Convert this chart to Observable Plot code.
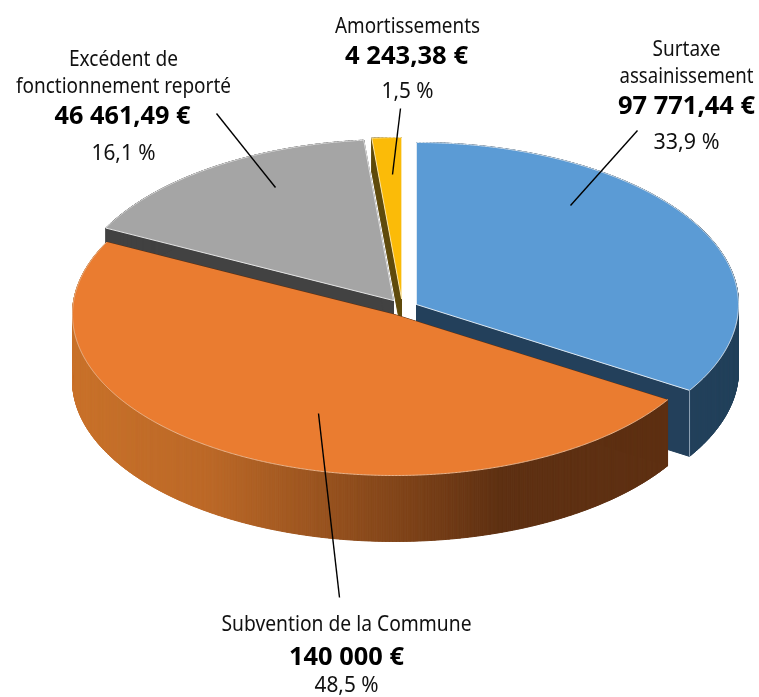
<!DOCTYPE html>
<html lang="fr">
<head>
<meta charset="utf-8">
<script src="https://cdn.jsdelivr.net/npm/d3@7"></script>
<script src="https://cdn.jsdelivr.net/npm/@observablehq/plot@0.6"></script>
<style>
html,body{margin:0;padding:0;background:#fff}
svg{display:block;filter:blur(.45px)}
</style>
</head>
<body>
<div id="chart"></div>
<script>
// Values
const categories = ["Surtaxe\nassainissement", "Subvention de la Commune", "Excédent de\nfonctionnement reporté", "Amortissements"];
const amounts = [97771.44, 140000, 46461.49, 4243.38];
const amountLabels = ["97 771,44 €", "140 000 €", "46 461,49 €", "4 243,38 €"];
const percentLabels = ["33,9 %", "48,5 %", "16,1 %", "1,5 %"];

// Styling and layout, one entry per slice
const topColors = ["#5b9bd5", "#ea7c30", "#a5a5a5", "#fbbb08"];
const wallColors = ["#23405b", "#5e3012", "#424242", "#5f4a0c"];
const edgeColors = ["#dce8f3", "none", "#e4e4e4", "#fbe6a8"];
const apexX = [416, 394, 393, 401];
const apexY = [304, 314, 300, 298];
const wallDepth = [66, 66, 66, 34];
const nameX = [686, 346, 123, 407], nameY = [60.5, 622, 70, 24];
const amountX = [686, 346, 122, 406], amountY = [105, 656, 115, 55];
const percentX = [686, 346, 123, 407], percentY = [141, 684, 152, 90];
const leaderX1 = [637, 339, 216, 400], leaderY1 = [130, 597, 113, 108];
const leaderX2 = [570, 318, 275, 392], leaderY2 = [205, 413, 187, 174];

// Printed width of each line of text, in pixels
const lineWidths = new Map([
  ["Surtaxe", 68], ["assainissement", 134], ["Subvention de la Commune", 250],
  ["Excédent de", 109], ["fonctionnement reporté", 215], ["Amortissements", 145],
  ["97 771,44 €", 137], ["140 000 €", 115], ["46 461,49 €", 136], ["4 243,38 €", 123],
  ["33,9 %", 66], ["48,5 %", 64], ["16,1 %", 64], ["1,5 %", 52]
]);

const radiusX = 322, radiusY = 161;
const sideRamp = d3.scaleLinear()
  .domain([72, 210, 400, 500, 667])
  .range(["#c9722b", "#bb6827", "#804419", "#5e3012", "#5e3012"])
  .clamp(true);

const total = d3.sum(amounts);
const points = [];
function face(id, pts, fill, stroke) {
  pts.forEach(([x, y]) => points.push({face: id, x, y, fill, stroke}));
}
function rim(i, a) {
  const ry = i === 0 ? radiusY + 1 : radiusY;
  return [apexX[i] + radiusX * Math.sin(a), apexY[i] - ry * Math.cos(a)];
}
function arc(i, a0, a1) {
  const n = Math.max(6, Math.ceil((a1 - a0) * 720 / Math.PI));
  return d3.range(n + 1).map(k => rim(i, a0 + (a1 - a0) * k / n));
}

const angles = [];
let running = 0;
amounts.forEach(v => {
  const a0 = running / total * 2 * Math.PI;
  running += v;
  angles.push([a0, running / total * 2 * Math.PI]);
});

// Painter's order: blue, yellow, grey, orange (front)
[0, 3, 2, 1].forEach(i => {
  const [a0, a1] = angles[i];
  const d = wallDepth[i];
  const apex = [apexX[i], apexY[i]];
  const down = ([x, y]) => [x, y + d];
  const start = rim(i, a0), end = rim(i, a1);
  face(`w0${i}`, [apex, start, down(start), down(apex), apex], wallColors[i], wallColors[i]);
  face(`w1${i}`, [apex, end, down(end), down(apex), apex], wallColors[i], wallColors[i]);
  const rimPts = arc(i, a0, a1);
  d3.pairs(rimPts).forEach(([p, q], k) => {
    const col = i === 1 ? d3.rgb(sideRamp((p[0] + q[0]) / 2)).formatHex() : wallColors[i];
    face(`s${i}-${k}`, [p, q, down(q), down(p), p], col, col);
  });
  face(`t${i}`, [apex, ...rimPts, apex], topColors[i], edgeColors[i]);
  if (i === 0) face("corner", [end, down(end)], "none", "#8fa3b5");
  if (i === 1) face("highlight", rimPts.slice(0, -1), "none", "#e9b58e");
});

const rows = categories.map((name, i) => ({
  name, amount: amountLabels[i], percent: percentLabels[i],
  nx: nameX[i], ny: nameY[i], ax: amountX[i], ay: amountY[i], px: percentX[i], py: percentY[i],
  x1: leaderX1[i], y1: leaderY1[i], x2: leaderX2[i], y2: leaderY2[i]
}));

const font = "'Noto Sans', sans-serif";
const chart = Plot.plot({
  width: 759,
  height: 697,
  margin: 0,
  style: {background: "#fff", fontFamily: font, overflow: "visible"},
  x: {domain: [0, 759], range: [0, 759], axis: null},
  y: {domain: [0, 697], range: [0, 697], axis: null},
  color: {type: "identity"},
  marks: [
    Plot.line(points, {x: "x", y: "y", z: "face", fill: "fill", stroke: "stroke", strokeWidth: 1, strokeLinejoin: "round"}),
    Plot.link(rows, {x1: "x1", y1: "y1", x2: "x2", y2: "y2", stroke: "#000", strokeWidth: 1.4}),
    Plot.text(rows, {x: "nx", y: "ny", text: "name", fontSize: 22, lineHeight: 1.24, fill: "#111", fontFamily: font}),
    Plot.text(rows, {x: "ax", y: "ay", text: "amount", fontSize: 25, fontWeight: 700, fill: "#000", fontFamily: font}),
    Plot.text(rows, {x: "px", y: "py", text: "percent", fontSize: 22, fill: "#111", fontFamily: font})
  ]
});

// Condense each printed line to the width it has in the reference
chart.querySelectorAll("text, tspan").forEach(el => {
  if (el.tagName === "text" && el.querySelector("tspan")) return;
  const w = lineWidths.get(el.textContent);
  if (w) {
    el.setAttribute("textLength", w);
    el.setAttribute("lengthAdjust", "spacingAndGlyphs");
  }
});
document.getElementById("chart").append(chart);
</script>
</body>
</html>
